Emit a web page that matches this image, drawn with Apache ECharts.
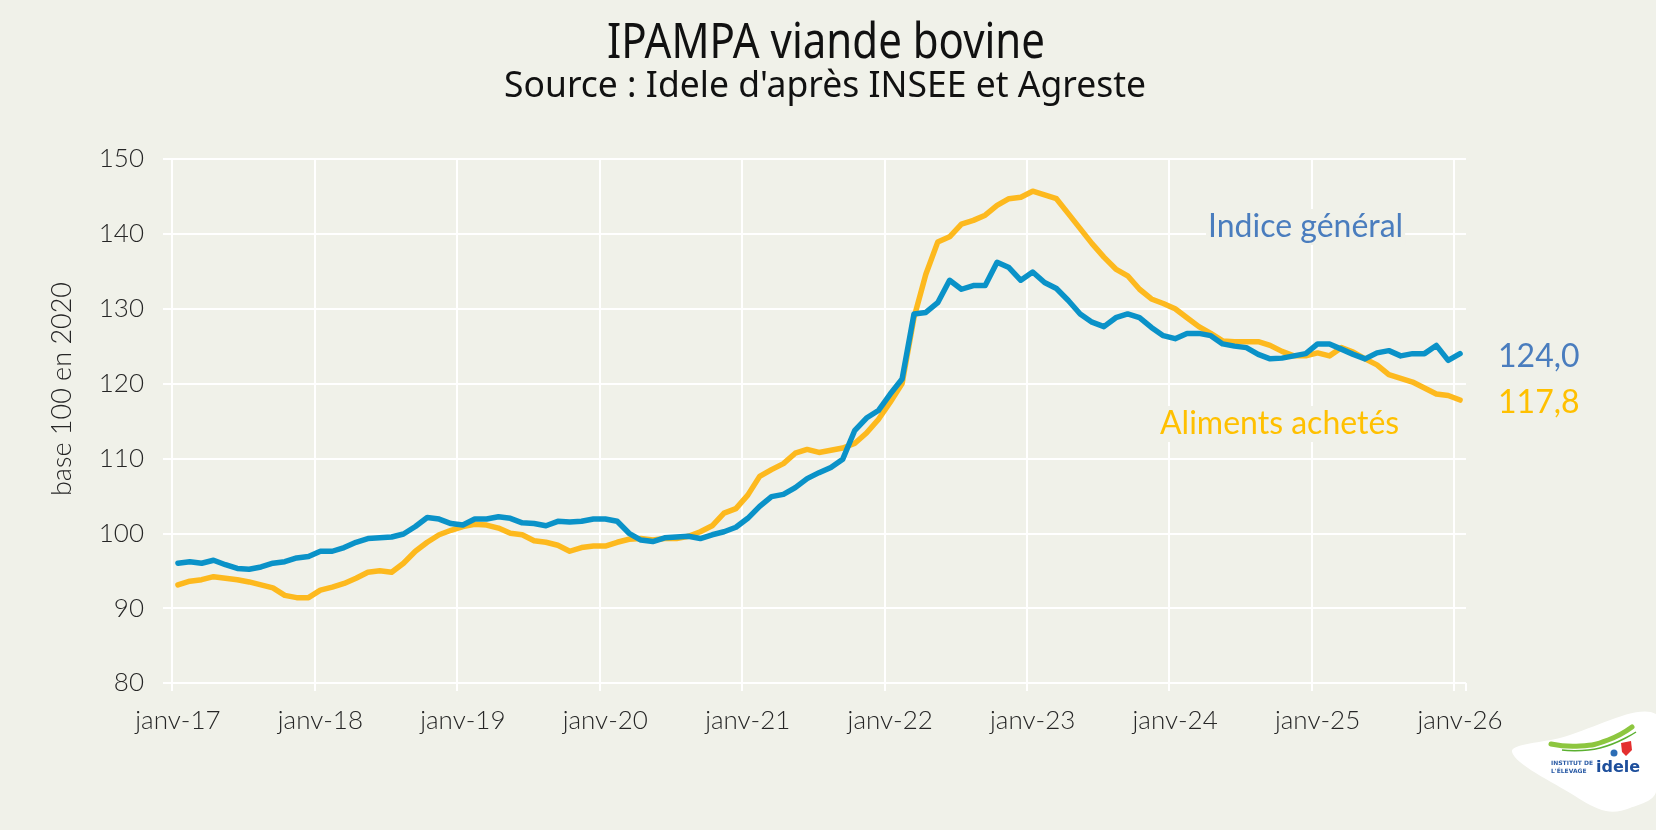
<!DOCTYPE html>
<html lang="fr">
<head>
<meta charset="utf-8">
<title>IPAMPA viande bovine</title>
<script src="https://cdn.jsdelivr.net/npm/echarts@6/dist/echarts.min.js"></script>
<style>
  html, body { margin: 0; padding: 0; background: #F0F1E9; }
  #chart { width: 1656px; height: 830px; }
</style>
</head>
<body>
<div id="chart"></div>
<script>
// Monthly index, base 100 in 2020, January 2017 to January 2026
const monthNames = ['janv', 'févr', 'mars', 'avr', 'mai', 'juin', 'juil', 'août', 'sept', 'oct', 'nov', 'déc'];
const yearSuffixes = ['17', '18', '19', '20', '21', '22', '23', '24', '25', '26'];

// IPAMPA viande bovine – indice général
const indiceGeneral = [
  96.0, 96.2, 96.0, 96.4, 95.8, 95.3, 95.2, 95.5, 96.0, 96.2, 96.7, 96.9,
  97.6, 97.6, 98.1, 98.8, 99.3, 99.4, 99.5, 99.9, 100.9, 102.1, 101.9, 101.3,
  101.1, 101.9, 101.9, 102.2, 102.0, 101.4, 101.3, 101.0, 101.6, 101.5, 101.6, 101.9,
  101.9, 101.6, 100.0, 99.1, 98.9, 99.4, 99.5, 99.6, 99.3, 99.8, 100.2, 100.8,
  102.0, 103.6, 104.9, 105.2, 106.1, 107.3, 108.1, 108.8, 109.9, 113.7, 115.4, 116.4,
  118.6, 120.6, 129.3, 129.5, 130.8, 133.8, 132.6, 133.1, 133.1, 136.2, 135.5, 133.8,
  134.9, 133.5, 132.7, 131.1, 129.3, 128.2, 127.6, 128.8, 129.3, 128.8, 127.5, 126.4,
  126.0, 126.7, 126.7, 126.4, 125.3, 125.0, 124.8, 123.9, 123.3, 123.4, 123.7, 124.0,
  125.3, 125.3, 124.6, 123.9, 123.3, 124.1, 124.4, 123.7, 124.0, 124.0, 125.1, 123.1,
  124.0
];

// IPAMPA viande bovine – aliments achetés
const alimentsAchetes = [
  93.1, 93.6, 93.8, 94.2, 94.0, 93.8, 93.5, 93.1, 92.7, 91.7, 91.4, 91.4,
  92.4, 92.8, 93.3, 94.0, 94.8, 95.0, 94.8, 96.0, 97.6, 98.8, 99.8, 100.4,
  100.9, 101.2, 101.1, 100.7, 100.0, 99.8, 99.0, 98.8, 98.4, 97.6, 98.1, 98.3,
  98.3, 98.8, 99.2, 99.3, 99.1, 99.3, 99.3, 99.6, 100.2, 101.0, 102.7, 103.3,
  105.1, 107.6, 108.5, 109.3, 110.7, 111.2, 110.8, 111.1, 111.4, 112.0, 113.4, 115.2,
  117.5, 120.0, 128.8, 134.6, 138.9, 139.6, 141.3, 141.8, 142.5, 143.8, 144.7, 144.9,
  145.7, 145.2, 144.7, 142.7, 140.7, 138.7, 136.9, 135.3, 134.4, 132.6, 131.3, 130.7,
  130.0, 128.8, 127.6, 126.7, 125.7, 125.6, 125.6, 125.6, 125.1, 124.3, 123.7, 123.7,
  124.1, 123.7, 124.8, 124.2, 123.3, 122.5, 121.2, 120.7, 120.2, 119.4, 118.6, 118.4,
  117.8
];

const categories = [];
yearSuffixes.forEach(function (y) {
  monthNames.forEach(function (m) {
    if (categories.length < indiceGeneral.length) categories.push(m + '-' + y);
  });
});

const BG = '#F0F1E9';
const BLUE = '#0A92C8';
const YELLOW = '#FDB91E';
const LABEL_BLUE = '#4A7DBE';
const LABEL_YELLOW = '#FFC000';
const INK = '#262626';
const FONT = 'Lato, "Open Sans", sans-serif';

// Horizontal squeeze so a regular sans renders like a condensed face
function squeezeFor(text, font, targetWidth) {
  const ctx = document.createElement('canvas').getContext('2d');
  ctx.font = font;
  const w = ctx.measureText(text).width;
  return w > 0 ? Math.min(1, targetWidth / w) : 1;
}

const titleText = 'IPAMPA viande bovine';
const titleFont = '400 50px "Noto Sans"';
const subText = 'Source : Idele d\'après INSEE et Agreste';
const subFont = '400 37px "Noto Sans"';

const chart = echarts.init(document.getElementById('chart'), null, { renderer: 'canvas' });

const fmt = function (v) { return v.toFixed(1).replace('.', ','); };

function endLabel(color) {
  return {
    show: true,
    distance: 38,
    offset: [0, 3],
    formatter: function (p) { return fmt(p.value); },
    color: color,
    fontSize: 32,
    fontFamily: FONT
  };
}

chart.setOption({
  backgroundColor: BG,
  animation: false,
  grid: { left: 172, right: 190, top: 159, bottom: 147, containLabel: false },
  xAxis: {
    type: 'category',
    data: categories,
    boundaryGap: true,
    axisLine: { show: false },
    axisTick: { show: true, interval: 11, length: 8, lineStyle: { color: '#FFFFFF', width: 2 } },
    axisLabel: { interval: 11, fontSize: 26, fontWeight: 300, color: INK, margin: 25, fontFamily: FONT },
    splitLine: { show: true, interval: 11, showMaxLine: false, lineStyle: { color: '#FFFFFF', width: 2 } }
  },
  yAxis: {
    type: 'value',
    min: 80,
    max: 150,
    interval: 10,
    name: 'base 100 en 2020',
    nameLocation: 'middle',
    nameGap: 96,
    // left padding lifts the rotated title above the axis midpoint
    nameTextStyle: { fontSize: 27, fontWeight: 300, color: INK, fontFamily: FONT, padding: [0, 0, 0, 64] },
    axisLine: { show: false },
    axisTick: { show: true, length: 9, lineStyle: { color: '#FFFFFF', width: 2 } },
    axisLabel: { fontSize: 26, fontWeight: 300, color: INK, margin: 28, fontFamily: FONT },
    splitLine: { show: true, lineStyle: { color: '#FFFFFF', width: 2 } }
  },
  series: [
    {
      name: 'Aliments achetés',
      type: 'line',
      data: alimentsAchetes,
      showSymbol: false,
      lineStyle: { color: YELLOW, width: 5.5, cap: 'round', join: 'round' },
      itemStyle: { color: YELLOW },
      endLabel: endLabel(LABEL_YELLOW),
      z: 2
    },
    {
      name: 'Indice général',
      type: 'line',
      data: indiceGeneral,
      showSymbol: false,
      lineStyle: { color: BLUE, width: 5.5, cap: 'round', join: 'round' },
      itemStyle: { color: BLUE },
      endLabel: endLabel(LABEL_BLUE),
      z: 3
    }
  ],
  graphic: [
    {
      type: 'text', x: 826, y: 44, z: 100,
      scaleX: squeezeFor(titleText, titleFont, 438),
      style: { text: titleText, font: titleFont, fill: '#111111', textAlign: 'center', textVerticalAlign: 'middle' }
    },
    {
      type: 'text', x: 825, y: 86, z: 100,
      scaleX: squeezeFor(subText, subFont, 642),
      style: { text: subText, font: subFont, fill: '#111111', textAlign: 'center', textVerticalAlign: 'middle' }
    },
    {
      type: 'text', x: 1206, y: 227, z: 100,
      style: {
        text: 'Indice général', font: '400 32px ' + FONT, fill: LABEL_BLUE,
        textAlign: 'left', textVerticalAlign: 'middle',
        backgroundColor: BG, padding: [2, 2, 2, 2]
      }
    },
    {
      type: 'text', x: 1158, y: 424, z: 100,
      style: {
        text: 'Aliments achetés', font: '400 32px ' + FONT, fill: LABEL_YELLOW,
        textAlign: 'left', textVerticalAlign: 'middle',
        backgroundColor: BG, padding: [2, 2, 2, 2]
      }
    },
    // Institut de l'Élevage badge, bottom right
    {
      type: 'group',
      z: 100,
      children: [
        {
          type: 'polygon',
          shape: {
            points: [[1512, 752], [1560, 738], [1656, 714], [1656, 792], [1630, 808], [1606, 811], [1575, 796]],
            smooth: 0.35
          },
          style: { fill: '#FFFFFF' }
        },
        {
          type: 'polyline',
          shape: { points: [[1551, 744], [1580, 746], [1608, 740], [1632, 727]], smooth: 0.5 },
          style: { stroke: '#8DC63F', lineWidth: 5, fill: null, lineCap: 'round' }
        },
        {
          type: 'polyline',
          shape: { points: [[1562, 750], [1600, 748], [1636, 732]], smooth: 0.5 },
          style: { stroke: '#5BB030', lineWidth: 1.5, fill: null }
        },
        {
          type: 'polygon',
          shape: { points: [[1621, 743], [1631, 741], [1632, 750], [1626, 756], [1622, 752]] },
          style: { fill: '#E42F2F' }
        },
        {
          type: 'circle',
          shape: { cx: 1614, cy: 753, r: 3.5 },
          style: { fill: '#2C6DB5' }
        },
        {
          type: 'text', x: 1551, y: 763,
          style: { text: 'INSTITUT DE', font: 'bold 6px "DejaVu Sans"', fill: '#2C5CA6', textAlign: 'left', textVerticalAlign: 'middle' }
        },
        {
          type: 'text', x: 1551, y: 771,
          style: { text: "L'ÉLEVAGE", font: 'bold 6px "DejaVu Sans"', fill: '#2C5CA6', textAlign: 'left', textVerticalAlign: 'middle' }
        },
        {
          type: 'text', x: 1596, y: 768,
          style: { text: 'idele', font: 'bold 16px "DejaVu Sans"', fill: '#1E4F9C', textAlign: 'left', textVerticalAlign: 'middle' }
        }
      ]
    }
  ]
});
</script>
</body>
</html>
